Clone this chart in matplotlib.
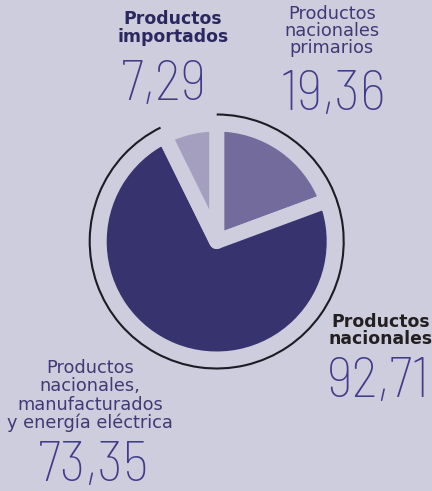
import matplotlib.pyplot as plt
from matplotlib.patches import Arc

fondo = '#cecdde'

# porcentajes del total
etiquetas = ['Productos nacionales primarios',
             'Productos nacionales, manufacturados y energía eléctrica',
             'Productos importados']
valores = [19.36, 73.35, 7.29]
colores = ['#736b9b', '#36336e', '#a49ebf']
nacionales = round(valores[0] + valores[1], 2)

lineas_importados = ['Productos', 'importados']
lineas_primarios = ['Productos', 'nacionales', 'primarios']
lineas_manufact = ['Productos', 'nacionales,', 'manufacturados', 'y energía eléctrica']
lineas_nacionales = ['Productos', 'nacionales']


def fmt(v):
    return f'{v:.2f}'.replace('.', ',')


def bloque(x, y0, lineas, paso, **kw):
    for i, l in enumerate(lineas):
        ax.text(x, y0 - i * paso, l, ha='center', va='baseline',
                family='DejaVu Sans', **kw)


def numero(x, y, v, ha='center'):
    ax.text(x, y, fmt(v), ha=ha, va='baseline', family='Barlow Semi Condensed',
            fontweight=250, fontsize=41, color='#403c88')


fig = plt.figure(figsize=(4.32, 4.91), dpi=100, facecolor=fondo)
ax = fig.add_axes([0, 0, 1, 1])

cx, cy = 216.7, 249.5
ax.pie(valores, colors=colores, startangle=90, counterclock=False,
       center=(cx, cy), radius=117.5,
       wedgeprops=dict(linewidth=10.8, edgecolor=fondo, joinstyle='round'))

# arco de los productos nacionales
ax.add_patch(Arc((cx, cy), 254, 254, theta1=90 + (100 - nacionales) * 3.6,
                 theta2=450, lw=1.5, color='#1d1b24'))

ax.set_xlim(0, 432)
ax.set_ylim(0, 491)
ax.set_aspect('equal')
ax.axis('off')

bloque(173, 491 - 24, lineas_importados, 17.5, fontsize=12.4,
       fontweight='bold', color='#2a285e')
numero(164, 491 - 99.5, valores[2])

bloque(331.7, 491 - 18.5, lineas_primarios, 17.2, fontsize=12.8, color='#3e3a75')
numero(333, 491 - 110, valores[0])

bloque(380.5, 491 - 327, lineas_nacionales, 17, fontsize=12.4,
       fontweight='bold', color='#231f20')
numero(430, 491 - 396.7, nacionales, ha='right')

bloque(90, 491 - 373, lineas_manufact, 18.4, fontsize=12.8, color='#3e3a75')
numero(93, 491 - 481, valores[1])

fig.savefig('out.png', dpi=100, facecolor=fondo)
